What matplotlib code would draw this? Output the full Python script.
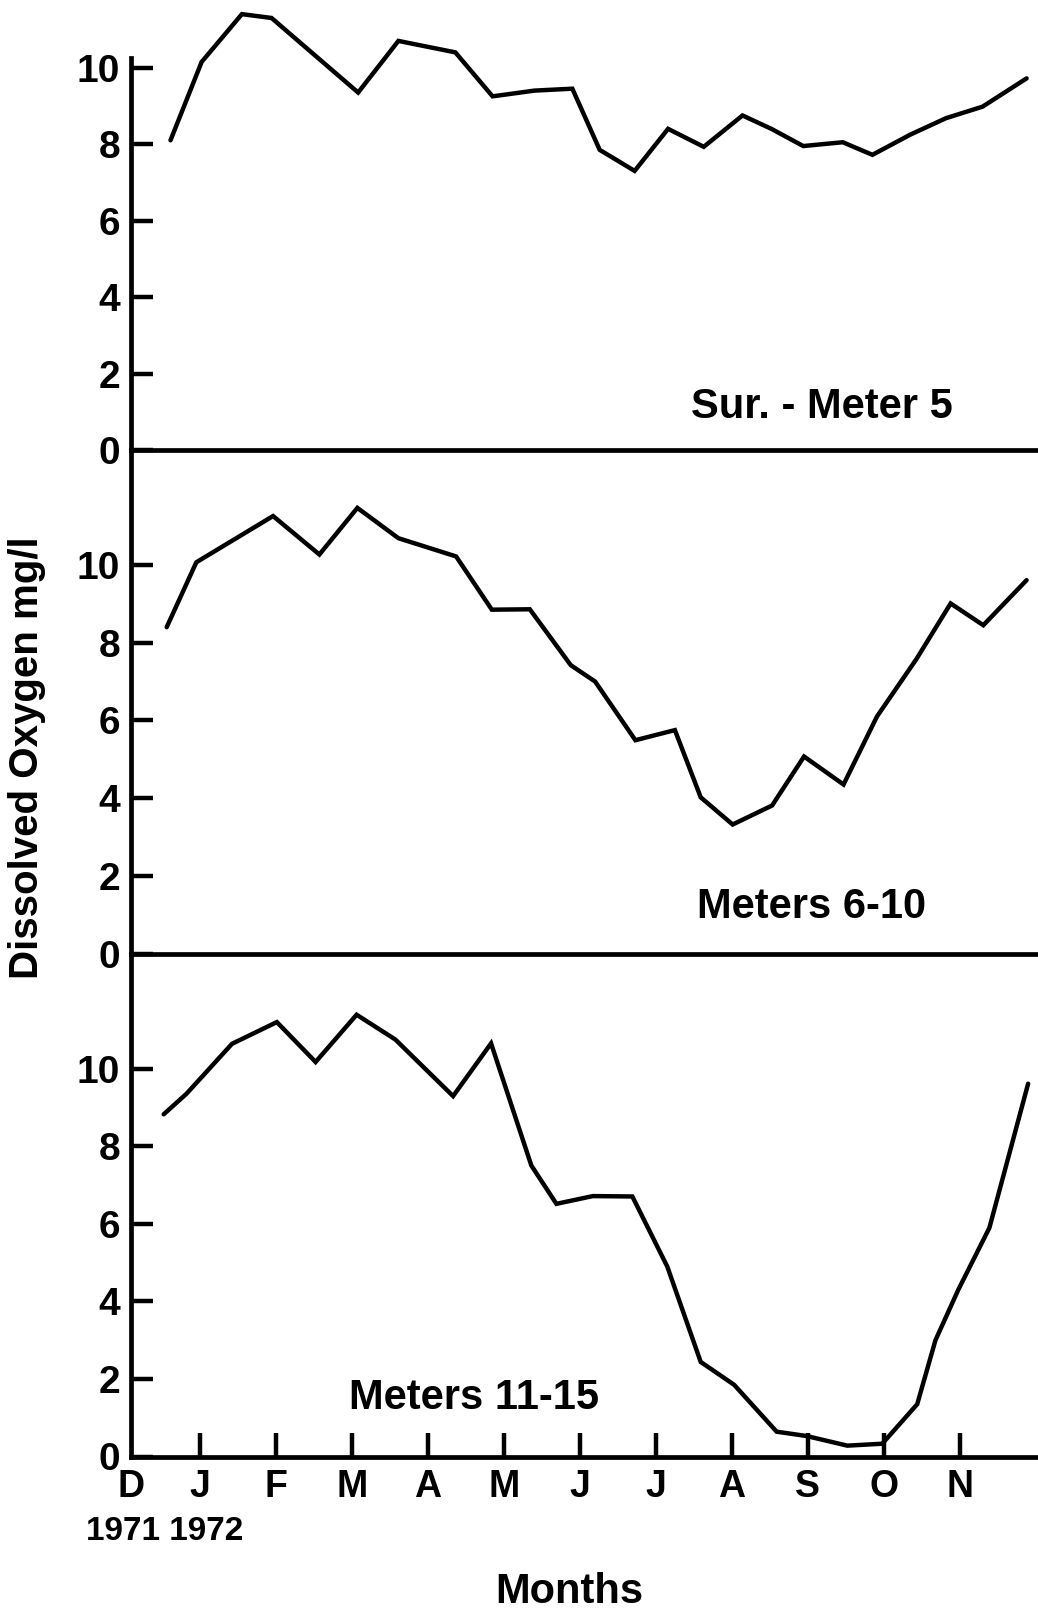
import numpy as np
import matplotlib
matplotlib.use('Agg')
import matplotlib.pyplot as plt

# Dissolved oxygen (mg/l), Dec 1971 - Nov 1972, three depth layers
# x = month index (J=1 ... N=11)
meses = ['D', 'J', 'F', 'M', 'A', 'M', 'J', 'J', 'A', 'S', 'O', 'N']
pos_meses = [0.09, 1, 2, 3, 4, 5, 6, 7, 8, 9, 10, 11]
ticks_y = [0, 2, 4, 6, 8, 10]

sup_x = [0.61, 1.02, 1.55, 1.94, 3.08, 3.61, 4.36, 4.85, 5.40, 5.90, 6.26,
         6.72, 7.16, 7.63, 8.14, 8.52, 8.94, 9.46, 9.85, 10.35, 10.82, 11.30,
         11.88]
sup_y = [8.1, 10.15, 11.4, 11.3, 9.35, 10.7, 10.4, 9.25, 9.4, 9.45, 7.85,
         7.3, 8.4, 7.93, 8.75, 8.4, 7.95, 8.05, 7.72, 8.25, 8.68, 8.98, 9.72]

m610_x = [0.56, 0.95, 1.96, 2.57, 3.07, 3.61, 4.37, 4.84, 5.34, 5.88, 6.20,
          6.73, 7.25, 7.59, 8.01, 8.53, 8.95, 9.47, 9.91, 10.43, 10.88, 11.31,
          11.88]
m610_y = [8.4, 10.07, 11.26, 10.27, 11.47, 10.69, 10.22, 8.85, 8.86, 7.42,
          7.0, 5.49, 5.75, 4.02, 3.32, 3.81, 5.07, 4.35, 6.1, 7.58, 9.01, 8.45,
          9.61]

m1115_x = [0.52, 0.82, 1.42, 2.01, 2.52, 3.06, 3.57, 4.33, 4.83, 5.36, 5.69,
           6.17, 6.69, 7.15, 7.59, 8.03, 8.59, 8.98, 9.52, 9.98, 10.44, 10.68,
           10.98, 11.39, 11.90]
m1115_y = [8.83, 9.36, 10.65, 11.21, 10.18, 11.4, 10.76, 9.3, 10.66, 7.51,
           6.52, 6.72, 6.71, 4.9, 2.44, 1.85, 0.64, 0.53, 0.28, 0.33, 1.35,
           3.0, 4.3, 5.9, 9.62]

plt.rcParams['font.family'] = ['Liberation Sans', 'DejaVu Sans']
plt.rcParams['font.weight'] = 'bold'

W, H = 1038., 1616.
fig = plt.figure(figsize=(W / 100, H / 100), dpi=100, facecolor='white')

izq = 131. / W
ancho = 1. - izq
# (top px, bottom px, ymax) for each panel
paneles = [(0., 450., 11.77), (450., 953.5, 12.96), (953.5, 1456.5, 12.98)]
series = [(sup_x, sup_y, 'Sur. - Meter 5', 9.18, 1.12),
          (m610_x, m610_y, 'Meters 6-10', 9.05, 1.2),
          (m1115_x, m1115_y, 'Meters 11-15', 4.6, 1.51)]

lw = 3.2
axes = []
for i, ((top, bot, ymax), (xs, ys, etiq, tx, ty)) in enumerate(zip(paneles, series)):
    ax = fig.add_axes([izq, 1. - bot / H, ancho, (bot - top) / H])
    ax.plot(xs, ys, color='black', lw=lw, solid_joinstyle='miter',
            solid_capstyle='round')
    ax.set_xlim(0.09, 12.03)
    ax.set_ylim(0, ymax)
    for s in ['top', 'right']:
        ax.spines[s].set_visible(False)
    for s in ['left', 'bottom']:
        ax.spines[s].set_linewidth(3.4)
    if i == 0:
        ax.spines['left'].set_bounds(0, 10.25)
    ax.set_yticks(ticks_y)
    ax.set_yticklabels([str(t) for t in ticks_y])
    ax.tick_params(axis='y', direction='in', length=16, width=3.2, pad=8,
                   labelsize=28)
    ax.text(tx, ty, etiq, ha='center', va='center', fontsize=30,
            fontweight='bold')
    if i < 2:
        ax.set_xticks([])
    else:
        ax.set_xticks(pos_meses)
        ax.set_xticklabels(meses)
        ax.tick_params(axis='x', direction='in', length=17, width=3.2, pad=9,
                       labelsize=27)
        ax.xaxis.get_major_ticks()[0].tick1line.set_visible(False)
    ax.patch.set_alpha(0)
    axes.append(ax)

fig.text(165. / W, 1. - 1531. / H, '1971 1972', ha='center', va='center',
         fontsize=24, fontweight='bold')
fig.text(569. / W, 1. - 1592. / H, 'Months', ha='center', va='center',
         fontsize=30, fontweight='bold')
fig.text(27.5 / W, 1. - 758. / H, 'Dissolved Oxygen mg/l', rotation=90,
         ha='center', va='center', fontsize=29, fontweight='bold')

plt.savefig('out.png', dpi=100, facecolor='white')
